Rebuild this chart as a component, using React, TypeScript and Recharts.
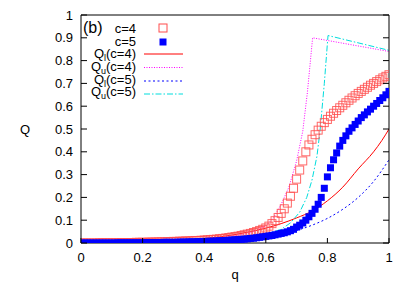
import React from 'react';
import { ComposedChart, XAxis, YAxis, Scatter, Line, Legend, Label } from 'recharts';

const qGrid = [
  0.00, 0.01, 0.02, 0.03, 0.04, 0.05, 0.06, 0.07, 0.08, 0.09,
  0.10, 0.11, 0.12, 0.13, 0.14, 0.15, 0.16, 0.17, 0.18, 0.19,
  0.20, 0.21, 0.22, 0.23, 0.24, 0.25, 0.26, 0.27, 0.28, 0.29,
  0.30, 0.31, 0.32, 0.33, 0.34, 0.35, 0.36, 0.37, 0.38, 0.39,
  0.40, 0.41, 0.42, 0.43, 0.44, 0.45, 0.46, 0.47, 0.48, 0.49,
  0.50, 0.51, 0.52, 0.53, 0.54, 0.55, 0.56, 0.57, 0.58, 0.59,
  0.60, 0.61, 0.62, 0.63, 0.64, 0.65, 0.66, 0.67, 0.68, 0.69,
  0.70, 0.71, 0.72, 0.73, 0.74, 0.75, 0.76, 0.77, 0.78, 0.79,
  0.80, 0.81, 0.82, 0.83, 0.84, 0.85, 0.86, 0.87, 0.88, 0.89,
  0.90, 0.91, 0.92, 0.93, 0.94, 0.95, 0.96, 0.97, 0.98, 0.99, 1.00,
];

const qC4 = [
  0.000, 0.000, 0.000, 0.000, 0.000, 0.000, 0.001, 0.001, 0.001, 0.001,
  0.001, 0.001, 0.001, 0.002, 0.002, 0.002, 0.002, 0.002, 0.003, 0.003,
  0.003, 0.003, 0.004, 0.004, 0.004, 0.005, 0.005, 0.005, 0.006, 0.006,
  0.007, 0.007, 0.008, 0.008, 0.009, 0.009, 0.010, 0.011, 0.011, 0.012,
  0.013, 0.014, 0.015, 0.016, 0.017, 0.019, 0.020, 0.022, 0.024, 0.026,
  0.028, 0.030, 0.033, 0.036, 0.039, 0.042, 0.046, 0.050, 0.055, 0.060,
  0.066, 0.074, 0.085, 0.098, 0.112, 0.130, 0.150, 0.175, 0.205, 0.240,
  0.280, 0.320, 0.360, 0.400, 0.430, 0.455, 0.475, 0.495, 0.512, 0.528,
  0.542, 0.556, 0.569, 0.581, 0.593, 0.604, 0.615, 0.626, 0.636, 0.646,
  0.656, 0.665, 0.674, 0.683, 0.692, 0.700, 0.708, 0.716, 0.724, 0.731, 0.738,
];

const qC5 = [
  0.000, 0.000, 0.000, 0.000, 0.000, 0.000, 0.000, 0.000, 0.000, 0.000,
  0.000, 0.000, 0.001, 0.001, 0.001, 0.001, 0.001, 0.001, 0.001, 0.001,
  0.001, 0.002, 0.002, 0.002, 0.002, 0.002, 0.002, 0.003, 0.003, 0.003,
  0.003, 0.003, 0.004, 0.004, 0.004, 0.005, 0.005, 0.005, 0.006, 0.006,
  0.007, 0.007, 0.008, 0.008, 0.009, 0.010, 0.010, 0.011, 0.012, 0.013,
  0.014, 0.015, 0.016, 0.017, 0.018, 0.020, 0.021, 0.023, 0.025, 0.027,
  0.029, 0.031, 0.033, 0.036, 0.039, 0.042, 0.045, 0.049, 0.054, 0.060,
  0.070, 0.078, 0.088, 0.100, 0.115, 0.130, 0.148, 0.170, 0.200, 0.240,
  0.290, 0.330, 0.365, 0.395, 0.425, 0.450, 0.470, 0.490, 0.505, 0.520,
  0.535, 0.550, 0.562, 0.575, 0.587, 0.600, 0.612, 0.625, 0.637, 0.650, 0.665,
];

const qlC4X = [0, 0.1, 0.2, 0.3, 0.4, 0.45, 0.5, 0.55, 0.6, 0.65, 0.7, 0.75, 0.8, 0.85, 0.9, 0.95, 0.977, 1.0];
const qlC4Y = [0, 0.002, 0.005, 0.01, 0.02, 0.027, 0.037, 0.05, 0.065, 0.085, 0.11, 0.14, 0.185, 0.245, 0.325, 0.40, 0.45, 0.50];

const quC4X = [0, 0.1, 0.2, 0.3, 0.4, 0.5, 0.55, 0.6, 0.625, 0.65, 0.675, 0.7, 0.72, 0.735, 0.752, 1.0];
const quC4Y = [0, 0.001, 0.004, 0.008, 0.018, 0.032, 0.045, 0.075, 0.11, 0.17, 0.245, 0.36, 0.49, 0.66, 0.90, 0.84];

const qlC5X = [0, 0.1, 0.2, 0.3, 0.4, 0.5, 0.55, 0.6, 0.65, 0.7, 0.75, 0.8, 0.85, 0.9, 0.95, 1.0];
const qlC5Y = [0, 0.001, 0.002, 0.005, 0.01, 0.017, 0.022, 0.03, 0.04, 0.055, 0.078, 0.108, 0.148, 0.2, 0.27, 0.365];

const quC5X = [0, 0.1, 0.2, 0.3, 0.4, 0.5, 0.6, 0.65, 0.68, 0.71, 0.733, 0.75, 0.766, 0.776, 0.79, 0.802, 1.0];
const quC5Y = [0, 0.001, 0.002, 0.004, 0.008, 0.016, 0.038, 0.06, 0.088, 0.135, 0.2, 0.276, 0.38, 0.49, 0.7, 0.91, 0.845];

const xTicks = [0, 0.2, 0.4, 0.6, 0.8, 1];
const xTickLabels = ['0', '0.2', '0.4', '0.6', '0.8', '1'];
const yTicks = [0, 0.1, 0.2, 0.3, 0.4, 0.5, 0.6, 0.7, 0.8, 0.9, 1];
const yTickLabels = ['0', '0.1', '0.2', '0.3', '0.4', '0.5', '0.6', '0.7', '0.8', '0.9', '1'];

const FONT = '"Liberation Sans", Arial, Helvetica, sans-serif';
const RED_SQ = '#ff4d4d';
const BLUE = '#0000ff';
const RED = '#ff0000';
const MAGENTA = '#ff00ff';
const CYAN = '#00dddd';

const zip = (xs: number[], ys: number[]) => xs.map((x, i) => ({ q: x, Q: ys[i] }));
const c4Data = zip(qGrid, qC4);
const c5Data = zip(qGrid, qC5);
const qlC4 = zip(qlC4X, qlC4Y);
const quC4 = zip(quC4X, quC4Y);
const qlC5 = zip(qlC5X, qlC5Y);
const quC5 = zip(quC5X, quC5Y);

const labelFor = (v: number, ticks: number[], labels: string[]) => {
  const i = ticks.findIndex((t) => Math.abs(t - v) < 1e-9);
  return i >= 0 ? labels[i] : String(v);
};

const BottomTick = (props: any) => {
  const { x, y, payload } = props;
  return (
    <g>
      <line x1={x} x2={x} y1={y} y2={y - 5} stroke="#000" />
      <text x={x} y={y + 19} textAnchor="middle" fontSize={13} fontFamily={FONT} fill="#000">
        {labelFor(payload.value, xTicks, xTickLabels)}
      </text>
    </g>
  );
};

const TopTick = (props: any) => {
  const { x, y } = props;
  return <line x1={x} x2={x} y1={y} y2={y + 5} stroke="#000" />;
};

const LeftTick = (props: any) => {
  const { x, y, payload } = props;
  return (
    <g>
      <line x1={x} x2={x + 6} y1={y} y2={y} stroke="#000" />
      <text x={x - 8} y={y + 4.5} textAnchor="end" fontSize={13} fontFamily={FONT} fill="#000">
        {labelFor(payload.value, yTicks, yTickLabels)}
      </text>
    </g>
  );
};

const RightTick = (props: any) => {
  const { x, y } = props;
  return <line x1={x} x2={x - 6} y1={y} y2={y} stroke="#000" />;
};

const OpenSquare = (props: any) => {
  const { cx, cy } = props;
  if (cx == null || cy == null) return null;
  return <rect x={cx - 4} y={cy - 4} width={8} height={8} fill="none" stroke={RED_SQ} strokeWidth={1} strokeOpacity={0.85} />;
};

const FilledSquare = (props: any) => {
  const { cx, cy } = props;
  if (cx == null || cy == null) return null;
  return <rect x={cx - 3.5} y={cy - 3.5} width={7} height={7} fill={BLUE} />;
};

// Legend drawn in local coords; wrapper placed at (80, 15)
const LegendContent = () => {
  const ox = 80;
  const oy = 15;
  const tx = 136 - ox;
  const l1 = 144 - ox;
  const l2 = 183 - ox;
  const t = (s: number) => s - oy;
  const fs = 13;
  const sub = (main: string, subs: string, rest: string, base: number) => (
    <text x={tx} y={t(base)} textAnchor="end" fontSize={fs} fontFamily={FONT} fill="#000">
      {main}
      <tspan fontSize={9} dy={3}>{subs}</tspan>
      <tspan dy={-3}>{rest}</tspan>
    </text>
  );
  return (
    <svg width={120} height={90} style={{ display: 'block', overflow: 'visible' }}>
      <text x={83 - ox} y={t(33)} fontSize={16} fontFamily={FONT} fill="#000">(b)</text>
      <text x={tx} y={t(33)} textAnchor="end" fontSize={fs} fontFamily={FONT} fill="#000">c=4</text>
      <rect x={163 - ox - 4} y={t(28) - 4} width={8} height={8} fill="none" stroke={RED_SQ} />
      <text x={tx} y={t(46)} textAnchor="end" fontSize={fs} fontFamily={FONT} fill="#000">c=5</text>
      <rect x={163 - ox - 3.5} y={t(42) - 3.5} width={7} height={7} fill={BLUE} />
      {sub('Q', 'l', '(c=4)', 58)}
      <line x1={l1} x2={l2} y1={t(54)} y2={t(54)} stroke={RED} strokeWidth={1} />
      {sub('Q', 'u', '(c=4)', 71)}
      <line x1={l1} x2={l2} y1={t(67.5)} y2={t(67.5)} stroke={MAGENTA} strokeWidth={1} strokeDasharray="1 1.5" />
      {sub('Q', 'l', '(c=5)', 83.5)}
      <line x1={l1} x2={l2} y1={t(81)} y2={t(81)} stroke={BLUE} strokeWidth={1} strokeDasharray="2 2.5" />
      {sub('Q', 'u', '(c=5)', 96)}
      <line x1={l1} x2={l2} y1={t(94)} y2={t(94)} stroke={CYAN} strokeWidth={1} strokeDasharray="6 2 1.5 2" />
    </svg>
  );
};

export default function App() {
  return (
    <div style={{ position: 'absolute', left: 0, top: 0, width: 409, height: 286, background: '#fff' }}>
      <ComposedChart width={409} height={286} margin={{ top: 0, right: 0, bottom: 0, left: 0 }}>
        <XAxis
          xAxisId="main"
          dataKey="q"
          type="number"
          domain={[0, 1]}
          ticks={xTicks}
          interval={0}
          allowDataOverflow
          height={43}
          tickSize={0}
          tickMargin={0}
          tick={<BottomTick />}
          axisLine={{ stroke: '#000' }}
          tickLine={false}
        >
          <Label value="q" position="insideBottom" offset={7} fontSize={13} fontFamily={FONT} fill="#000" />
        </XAxis>
        <XAxis
          xAxisId="top"
          orientation="top"
          type="number"
          domain={[0, 1]}
          ticks={xTicks}
          interval={0}
          allowDataOverflow
          height={15}
          tickSize={0}
          tickMargin={0}
          tick={<TopTick />}
          axisLine={{ stroke: '#000' }}
          tickLine={false}
        />
        <YAxis
          yAxisId="main"
          type="number"
          domain={[0, 1]}
          ticks={yTicks}
          interval={0}
          allowDataOverflow
          width={81}
          tickSize={0}
          tickMargin={0}
          tick={<LeftTick />}
          axisLine={{ stroke: '#000' }}
          tickLine={false}
        >
          <Label value="Q" position="insideLeft" offset={20} fontSize={13} fontFamily={FONT} fill="#000" />
        </YAxis>
        <YAxis
          yAxisId="right"
          orientation="right"
          type="number"
          domain={[0, 1]}
          ticks={yTicks}
          interval={0}
          allowDataOverflow
          width={20}
          tickSize={0}
          tickMargin={0}
          tick={<RightTick />}
          axisLine={{ stroke: '#000' }}
          tickLine={false}
        />
        <Scatter xAxisId="main" yAxisId="main" data={c4Data} dataKey="Q" shape={<OpenSquare />} isAnimationActive={false} />
        <Scatter xAxisId="main" yAxisId="main" data={c5Data} dataKey="Q" shape={<FilledSquare />} isAnimationActive={false} />
        <Line xAxisId="main" yAxisId="main" data={qlC4} dataKey="Q" type="monotone" stroke={RED} strokeWidth={1} dot={false} isAnimationActive={false} />
        <Line xAxisId="main" yAxisId="main" data={quC4} dataKey="Q" type="linear" stroke={MAGENTA} strokeWidth={1} strokeDasharray="1 1.5" dot={false} isAnimationActive={false} />
        <Line xAxisId="main" yAxisId="main" data={qlC5} dataKey="Q" type="monotone" stroke={BLUE} strokeWidth={1} strokeDasharray="2 2.5" dot={false} isAnimationActive={false} />
        <Line xAxisId="main" yAxisId="main" data={quC5} dataKey="Q" type="linear" stroke={CYAN} strokeWidth={1} strokeDasharray="6 2 1.5 2" dot={false} isAnimationActive={false} />
        <Legend
          layout="vertical"
          align="center"
          verticalAlign="middle"
          content={<LegendContent />}
          wrapperStyle={{ left: 80, top: 15, width: 120, height: 90 }}
        />
      </ComposedChart>
    </div>
  );
}
